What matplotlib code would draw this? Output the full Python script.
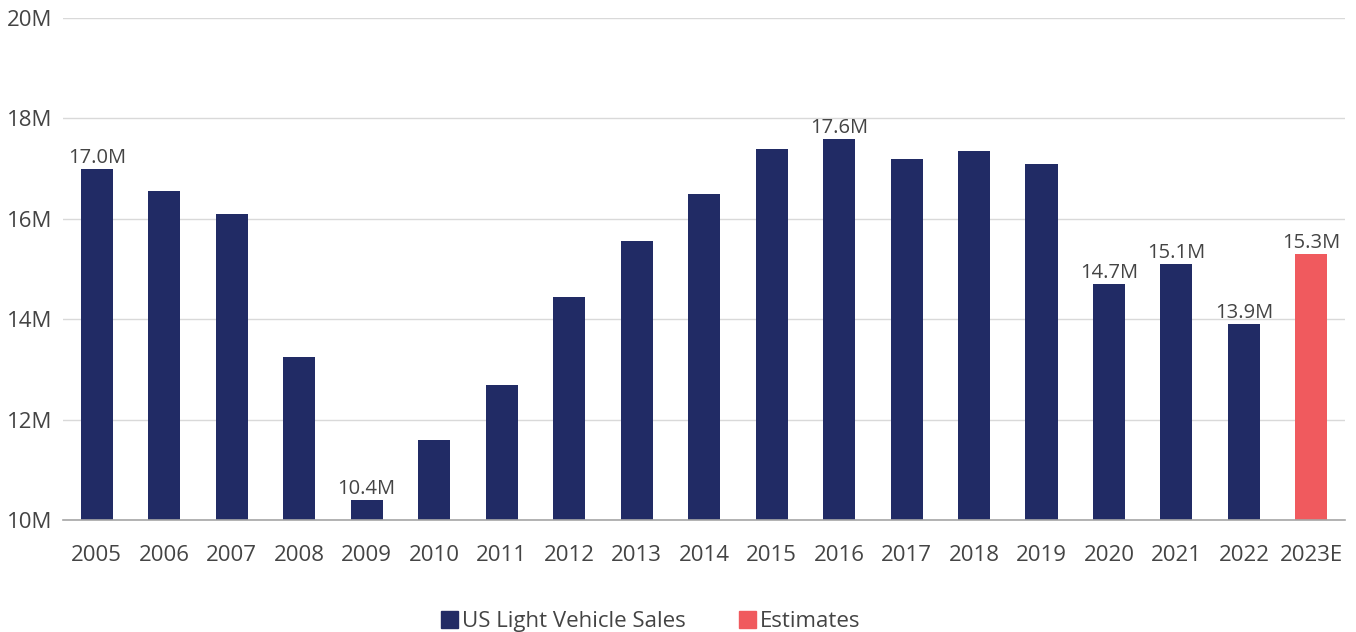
import matplotlib.pyplot as plt
from matplotlib.patches import Patch

years = ["2005", "2006", "2007", "2008", "2009", "2010", "2011", "2012", "2013",
         "2014", "2015", "2016", "2017", "2018", "2019", "2020", "2021", "2022", "2023E"]
# US light vehicle sales, millions of units (last one is an estimate)
sales = [17.0, 16.55, 16.1, 13.25, 10.4, 11.6, 12.7, 14.45, 15.55,
         16.5, 17.4, 17.6, 17.2, 17.35, 17.1, 14.7, 15.1, 13.9, 15.3]
is_estimate = [False] * 18 + [True]
labelled = ["2005", "2009", "2016", "2020", "2021", "2022", "2023E"]

y_ticks = [10, 12, 14, 16, 18, 20]

NAVY = "#212B65"
RED = "#F05A5E"
TEXT = "#444444"

plt.rcParams["font.family"] = ["Open Sans", "DejaVu Sans"]

fig = plt.figure(figsize=(13.56, 6.32), dpi=100)
ax = fig.add_axes([0.0465, 0.177, 0.9455, 0.7945])

x = list(range(len(years)))
colors = [RED if e else NAVY for e in is_estimate]
bars = ax.bar(x, [v - 10 for v in sales], bottom=10, width=0.475, color=colors, zorder=3)

for i, (yr, v) in enumerate(zip(years, sales)):
    if yr in labelled:
        ax.text(i, v + 0.02, f"{v:.1f}M", ha="center", va="bottom",
                fontsize=14.5, color=TEXT, zorder=4)

ax.set_xlim(-0.5, len(years) - 0.5)
ax.set_ylim(10, 20)
ax.set_yticks(y_ticks)
ax.set_yticklabels([f"{t}M" for t in y_ticks])
ax.set_xticks(x)
ax.set_xticklabels(years)
ax.tick_params(axis="both", length=0, labelsize=16, colors=TEXT)
ax.tick_params(axis="x", pad=18)
ax.tick_params(axis="y", pad=8)

ax.grid(axis="y", color="#D9D9D9", linewidth=1, zorder=0)
for s in ["top", "right", "left"]:
    ax.spines[s].set_visible(False)
ax.spines["bottom"].set_color("#A6A6A6")
ax.spines["bottom"].set_linewidth(1.2)
ax.spines["bottom"].set_zorder(5)

handles = [Patch(color=NAVY, label="US Light Vehicle Sales"),
           Patch(color=RED, label="Estimates")]
fig.legend(handles=handles, loc="center", bbox_to_anchor=(0.48, 0.016),
           ncol=2, frameon=False, fontsize=16, labelcolor=TEXT,
           handlelength=0.75, handleheight=0.75, handletextpad=0.2, columnspacing=2.4)

fig.savefig("out.png", dpi=100)
